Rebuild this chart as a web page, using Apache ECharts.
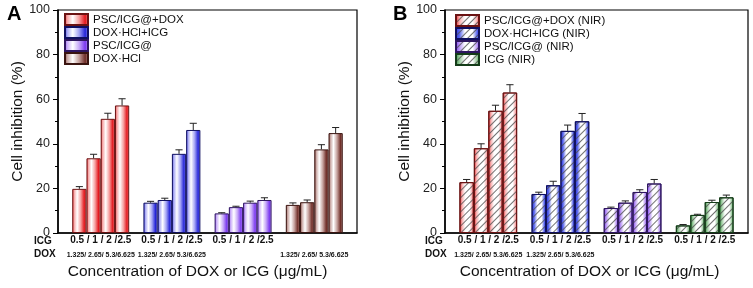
<!DOCTYPE html>
<html>
<head>
<meta charset="utf-8">
<script src="https://cdn.jsdelivr.net/npm/echarts@6/dist/echarts.min.js"></script>
<style>
  html, body { margin: 0; padding: 0; background: #fff; }
  #chart { width: 753px; height: 288px; }
</style>
</head>
<body>
<div id="chart"></div>
<script>
// the category axis has 21 slots: gap, 4 bars, gap, 4 bars, gap, 4 bars, gap, 4 bars, gap
const SLOTS = 21
const groupStart = [1, 6, 11, 16]

const icgDoses = '0.5 / 1 / 2 /2.5'
const doxDoses = '1.325/ 2.65/ 5.3/6.625'

// panel A
const namesA = ['PSC/ICG@+DOX', 'DOX·HCl+ICG', 'PSC/ICG@', 'DOX·HCl']
const pscIcgDox = [19.8, 33.5, 51.2, 57.2]
const pscIcgDoxErr = [1.0, 1.8, 2.5, 3.0]
const doxIcg = [13.6, 14.8, 35.5, 46.2]
const doxIcgErr = [0.6, 0.8, 1.8, 3.0]
const pscIcg = [8.8, 11.6, 13.6, 14.8]
const pscIcgErr = [0.3, 0.4, 0.7, 1.0]
const doxHcl = [12.6, 13.8, 37.5, 44.8]
const doxHclErr = [0.9, 1.0, 2.1, 2.5]
const icgRowA = [true, true, true, false]
const doxRowA = [true, true, false, true]

// panel B (NIR)
const namesB = ['PSC/ICG@+DOX (NIR)', 'DOX·HCl+ICG (NIR)', 'PSC/ICG@ (NIR)', 'ICG (NIR)']
const pscIcgDoxNir = [22.8, 38.0, 54.8, 63.0]
const pscIcgDoxNirErr = [1.2, 2.0, 2.5, 3.5]
const doxIcgNir = [17.5, 21.4, 45.8, 50.1]
const doxIcgNirErr = [0.8, 1.8, 2.6, 3.5]
const pscIcgNir = [11.2, 13.6, 18.4, 22.2]
const pscIcgNirErr = [0.4, 0.8, 1.0, 1.8]
const icgNir = [3.4, 8.1, 13.9, 16.0]
const icgNirErr = [0.4, 0.3, 0.8, 1.0]
const icgRowB = [true, true, true, true]
const doxRowB = [true, true, false, false]

const FONT = 'Liberation Sans, Arial, sans-serif'

// put the 4 values of a group into its slots
function slotData(g, vals) {
  const arr = new Array(SLOTS).fill('-')
  vals.forEach((v, i) => { arr[groupStart[g] + i] = v })
  return arr
}

// cylinder-like shading used in panel A
function shadeA(c, mid) {
  return new echarts.graphic.LinearGradient(0, 0, 1, 0, [
    {offset: 0, color: c},
    {offset: 0.12, color: mid},
    {offset: 0.35, color: '#ffffff'},
    {offset: 0.6, color: mid},
    {offset: 0.85, color: c},
    {offset: 1, color: mid},
  ])
}

// lighter shading for the hatched bars of panel B
function shadeB(c, mid) {
  return new echarts.graphic.LinearGradient(0, 0, 1, 0, [
    {offset: 0, color: c},
    {offset: 0.18, color: mid},
    {offset: 0.4, color: '#ffffff'},
    {offset: 0.7, color: '#ffffff'},
    {offset: 0.88, color: mid},
    {offset: 1, color: c},
  ])
}

const hatch = {
  symbol: 'rect',
  symbolSize: 1,
  dashArrayX: [1, 0],
  dashArrayY: [1, 4],
  rotation: -Math.PI / 4,
  color: 'rgba(80,80,80,0.8)',
}

const styleA = [
  {color: shadeA('#e3161c', '#f6a0a0'), borderColor: '#6b1212'},
  {color: shadeA('#2424d8', '#a4a4f4'), borderColor: '#101060'},
  {color: shadeA('#7a38f0', '#c8aaf8'), borderColor: '#2e1560'},
  {color: shadeA('#6e2c26', '#c6a29e'), borderColor: '#3a1410'},
]
const styleB = [
  {color: shadeB('#e3161c', '#f8b0b0'), borderColor: '#6b1212', decal: hatch},
  {color: shadeB('#1f2de0', '#5c68ee'), borderColor: '#101060', decal: hatch},
  {color: shadeB('#7a38f0', '#bb98f6'), borderColor: '#2e1560', decal: hatch},
  {color: shadeB('#2d8a38', '#9ccc9f'), borderColor: '#143c18', decal: hatch},
]

function barSeries(p, names, groups, styles) {
  return groups.map((vals, g) => ({
    type: 'bar',
    name: names[g],
    xAxisIndex: p,
    yAxisIndex: p,
    data: slotData(g, vals),
    barGap: '-100%',
    barCategoryGap: '0%',
    itemStyle: Object.assign({borderWidth: 1}, styles[g]),
    silent: true,
  }))
}

function errorSeries(p, groups, errs) {
  const data = []
  groups.forEach((vals, g) => {
    vals.forEach((v, i) => data.push([groupStart[g] + i, v, errs[g][i]]))
  })
  return {
    type: 'custom',
    xAxisIndex: p,
    yAxisIndex: p,
    data: data,
    z: 5,
    silent: true,
    renderItem(params, api) {
      const s = api.value(0)
      const base = api.coord([s, api.value(1)])
      const top = api.coord([s, api.value(1) + api.value(2)])
      const w = api.size([1, 0])[0] * 0.5
      const st = {stroke: '#222', lineWidth: 1}
      return {
        type: 'group',
        children: [
          {type: 'line', shape: {x1: base[0], y1: base[1], x2: top[0], y2: top[1]}, style: st},
          {type: 'line', shape: {x1: top[0] - w / 2, y1: top[1], x2: top[0] + w / 2, y2: top[1]}, style: st},
        ],
      }
    },
  }
}

// dose labels under each group
function doseSeries(p, icgRow, doxRow) {
  return {
    type: 'custom',
    xAxisIndex: p,
    yAxisIndex: p,
    data: groupStart.map((s, g) => [s + 1, g]),
    silent: true,
    renderItem(params, api) {
      const s = api.value(0)
      const g = api.value(1)
      const a = api.coord([s, 0])
      const b = api.coord([s + 1, 0])
      const x = (a[0] + b[0]) / 2
      const children = []
      if (icgRow[g]) {
        children.push({type: 'text', style: {text: icgDoses, x: x, y: a[1] + 7, align: 'center', verticalAlign: 'middle', font: 'bold 10px ' + FONT, fill: '#111'}})
      }
      if (doxRow[g]) {
        children.push({type: 'text', style: {text: doxDoses, x: x, y: a[1] + 22, align: 'center', verticalAlign: 'middle', font: 'bold 7px ' + FONT, fill: '#111'}})
      }
      return {type: 'group', children: children}
    },
  }
}

function xAxis(p, padRight) {
  return {
    type: 'category',
    gridIndex: p,
    data: Array.from({length: SLOTS}, (_, i) => String(i)),
    axisTick: {show: false},
    axisLabel: {show: false},
    axisLine: {lineStyle: {color: '#000', width: 1.5}},
    name: 'Concentration of DOX or ICG (μg/mL)',
    nameLocation: 'middle',
    nameGap: 31,
    nameTextStyle: {fontSize: 15.5, color: '#111', fontFamily: FONT, padding: [0, padRight, 0, 0]},
  }
}

function yAxis(p, gap) {
  return {
    type: 'value',
    gridIndex: p,
    min: 0,
    max: 100,
    interval: 20,
    name: 'Cell inhibition (%)',
    nameLocation: 'middle',
    nameGap: gap,
    nameTextStyle: {fontSize: 15.5, color: '#111', fontFamily: FONT},
    axisLine: {show: true, lineStyle: {color: '#000', width: 1.5}},
    axisTick: {show: true, length: 5, lineStyle: {color: '#000'}},
    minorTick: {show: true, splitNumber: 2, length: 3, lineStyle: {color: '#000'}},
    splitLine: {show: false},
    axisLabel: {fontSize: 12.5, color: '#222', fontFamily: FONT, margin: 8},
  }
}

function legend(names, left, top) {
  return {
    data: names,
    orient: 'vertical',
    left: left,
    top: top,
    icon: 'rect',
    itemWidth: 23,
    itemHeight: 11,
    itemGap: 0,
    padding: 0,
    selectedMode: false,
    textStyle: {fontSize: 11.5, color: '#111', fontFamily: FONT, lineHeight: 13},
  }
}

const groupsA = [pscIcgDox, doxIcg, pscIcg, doxHcl]
const errsA = [pscIcgDoxErr, doxIcgErr, pscIcgErr, doxHclErr]
const groupsB = [pscIcgDoxNir, doxIcgNir, pscIcgNir, icgNir]
const errsB = [pscIcgDoxNirErr, doxIcgNirErr, pscIcgNirErr, icgNirErr]

const chart = echarts.init(document.getElementById('chart'))
chart.setOption({
  animation: false,
  backgroundColor: '#fff',
  textStyle: {fontFamily: FONT},
  grid: [
    {left: 58, top: 10, width: 299, height: 223, show: true, borderColor: '#000', borderWidth: 1.2},
    {left: 445, top: 10, width: 303, height: 223, show: true, borderColor: '#000', borderWidth: 1.2},
  ],
  xAxis: [xAxis(0, 20), xAxis(1, 14)],
  yAxis: [yAxis(0, 32), yAxis(1, 26)],
  legend: [legend(namesA, 64, 13), legend(namesB, 455, 14)],
  graphic: [
    {type: 'text', left: 7, top: 4, style: {text: 'A', font: 'bold 20px ' + FONT, fill: '#000'}},
    {type: 'text', left: 393, top: 4, style: {text: 'B', font: 'bold 20px ' + FONT, fill: '#000'}},
    {type: 'text', left: 34, top: 236, style: {text: 'ICG', font: 'bold 10px ' + FONT, fill: '#111'}},
    {type: 'text', left: 34, top: 249, style: {text: 'DOX', font: 'bold 10px ' + FONT, fill: '#111'}},
    {type: 'text', left: 425, top: 236, style: {text: 'ICG', font: 'bold 10px ' + FONT, fill: '#111'}},
    {type: 'text', left: 425, top: 249, style: {text: 'DOX', font: 'bold 10px ' + FONT, fill: '#111'}},
  ],
  series: [
    ...barSeries(0, namesA, groupsA, styleA),
    errorSeries(0, groupsA, errsA),
    doseSeries(0, icgRowA, doxRowA),
    ...barSeries(1, namesB, groupsB, styleB),
    errorSeries(1, groupsB, errsB),
    doseSeries(1, icgRowB, doxRowB),
  ],
})
</script>
</body>
</html>
